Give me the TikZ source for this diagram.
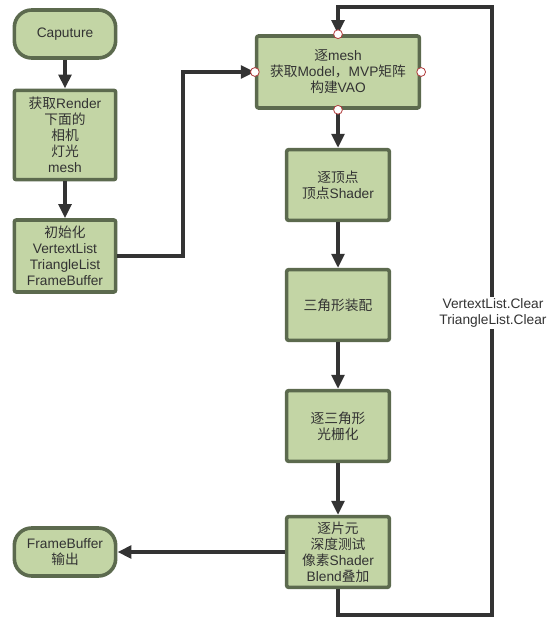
\documentclass[tikz,border=0pt]{standalone}
\usepackage{fontspec}
\setmainfont{Liberation Sans}
\newfontfamily\cjk{Noto Sans CJK SC}
\usetikzlibrary{arrows.meta}
\definecolor{boxfill}{HTML}{C3D5A5}
\definecolor{boxline}{HTML}{5C6A4E}
\definecolor{ink}{HTML}{333333}
\definecolor{portred}{HTML}{B03A3A}
\tikzset{
  stepbox/.style={draw=boxline, fill=boxfill, line width=2.7pt, rounded corners=1.5pt,
                  text=ink, align=center, inner sep=1pt,
                  font=\fontsize{10.3}{12}\selectfont},
  termbox/.style={stepbox, rounded corners=13pt, minimum width=76pt, minimum height=36pt},
  flow/.style={draw=ink, line width=2.8pt, -{Triangle[length=10.5pt,width=9.5pt]}},
  port/.style={draw=portred, fill=white, line width=0.6pt},
  note/.style={fill=white, text=ink, align=center, inner sep=1pt,
               font=\fontsize{10.3}{12}\selectfont},
}

\begin{document}
\begin{tikzpicture}[x=0.75pt, y=-0.75pt]
    \useasboundingbox (0,0) rectangle (552,623);
    % left column
    \node[termbox] (cap) at (65,34) {Caputure};
    \node[stepbox, minimum width=76pt, minimum height=67pt] (render) at (65,135)
        {{\cjk 获取}Render\\{\cjk 下面的}\\{\cjk 相机}\\{\cjk 灯光}\\mesh};
    \node[stepbox, minimum width=76pt, minimum height=54pt] (init) at (65,256)
        {{\cjk 初始化}\\VertextList\\TriangleList\\FrameBuffer};
    \node[termbox] (out) at (65,552) {FrameBuffer\\{\cjk 输出}};
    % pipeline
    \node[stepbox, minimum width=122pt, minimum height=54pt] (mesh) at (338,72)
        {{\cjk 逐}mesh\\{\cjk 获取}Model{\cjk ，}MVP{\cjk 矩阵}\\{\cjk 构建}VAO};
    \node[stepbox, minimum width=77pt, minimum height=53pt] (vert) at (338,185)
        {{\cjk 逐顶点}\\{\cjk 顶点}Shader};
    \node[stepbox, minimum width=77pt, minimum height=53pt] (tri) at (338,305)
        {{\cjk 三角形装配}};
    \node[stepbox, minimum width=77pt, minimum height=53pt] (rast) at (338,426)
        {{\cjk 逐三角形}\\{\cjk 光栅化}};
    \node[stepbox, minimum width=77pt, minimum height=53pt] (frag) at (338,552)
        {{\cjk 逐片元}\\{\cjk 深度测试}\\{\cjk 像素}Shader\\Blend{\cjk 叠加}};
    % connectors
    \coordinate (bend) at (183,256);
    \coordinate (loopbl) at (338,615);
    \coordinate (looptr) at (492,7);
    \draw[flow] (cap) -- (render);
    \draw[flow] (render) -- (init);
    \draw[flow] (init.east) -- (bend) |- (mesh.west);
    \draw[flow] (mesh) -- (vert);
    \draw[flow] (vert) -- (tri);
    \draw[flow] (tri) -- (rast);
    \draw[flow] (rast) -- (frag);
    \draw[flow] (frag) -- (out);
    \draw[flow] (frag.south) -- (loopbl) -| (looptr) -| (mesh.north);
    \node[note] (clear) at (493,313) {VertextList.Clear\\TriangleList.Clear};
    % ports on the mesh box
    \foreach \a in {north,south,east,west}
      \draw[port] (mesh.\a) circle (4.4);
\end{tikzpicture}
\end{document}
